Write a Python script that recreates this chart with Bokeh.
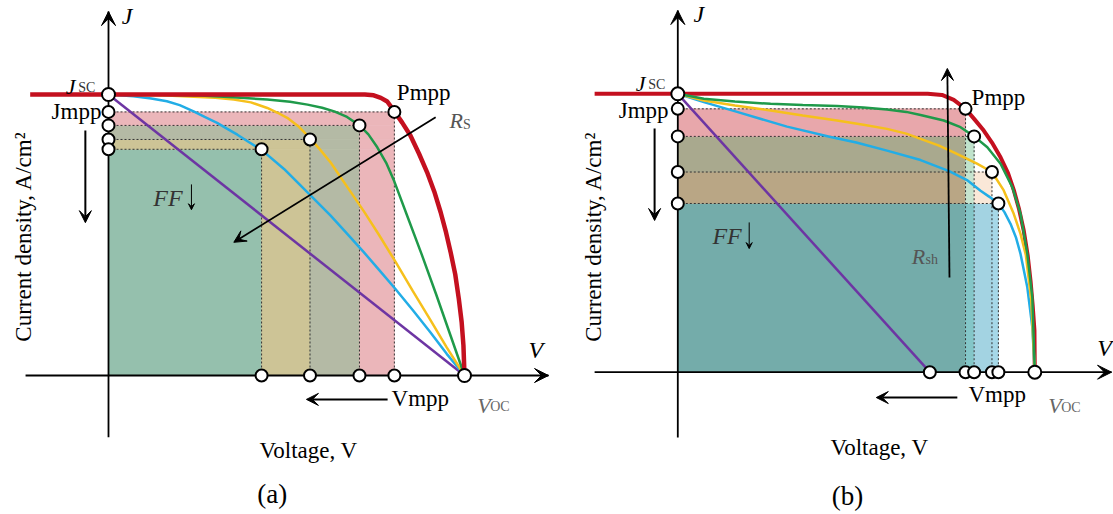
import math
from bokeh.plotting import figure
from bokeh.layouts import row
from bokeh.models import Range1d, Arrow, VeeHead
from bokeh.embed import file_html
from bokeh.resources import INLINE
from bokeh.core.properties import value

FONT = "Liberation Serif"

# ---------------- Panel (a): series resistance ----------------
A_RED_V = [-0.22, 0.0, 0.72, 0.745, 0.765, 0.783, 0.803, 0.825, 0.848, 0.872, 0.895, 0.915, 0.933, 0.948, 0.961, 0.974, 0.984, 0.992, 0.997, 1.0]
A_RED_J = [1.0, 1.0, 1.0, 0.997, 0.988, 0.975, 0.94, 0.90, 0.854, 0.79, 0.723, 0.655, 0.581, 0.51, 0.439, 0.36, 0.273, 0.19, 0.107, 0.0]
A_GRN_V = [0.0, 0.15, 0.258, 0.35, 0.446, 0.51, 0.559, 0.60, 0.634, 0.67, 0.705, 0.73, 0.755, 0.78, 0.803, 0.84, 0.88, 0.92, 0.96, 1.0]
A_GRN_J = [1.0, 0.999, 0.996, 0.99, 0.982, 0.974, 0.964, 0.953, 0.94, 0.92, 0.89, 0.858, 0.812, 0.757, 0.69, 0.565, 0.43, 0.29, 0.145, 0.0]
A_YEL_V = [0.0, 0.164, 0.30, 0.352, 0.40, 0.446, 0.475, 0.502, 0.535, 0.566, 0.595, 0.624, 0.67, 0.717, 0.76, 0.806, 0.855, 0.904, 0.95, 1.0]
A_YEL_J = [1.0, 0.996, 0.988, 0.982, 0.972, 0.952, 0.935, 0.917, 0.885, 0.845, 0.803, 0.758, 0.672, 0.585, 0.50, 0.405, 0.30, 0.198, 0.10, 0.0]
A_BLU_V = [0.0, 0.07, 0.12, 0.164, 0.20, 0.239, 0.27, 0.305, 0.335, 0.362, 0.395, 0.43, 0.493, 0.559, 0.624, 0.67, 0.717, 0.76, 0.806, 0.855, 0.904, 0.95, 1.0]
A_BLU_J = [1.0, 0.994, 0.986, 0.976, 0.962, 0.94, 0.92, 0.899, 0.877, 0.857, 0.83, 0.803, 0.735, 0.652, 0.569, 0.505, 0.439, 0.376, 0.308, 0.232, 0.154, 0.077, 0.0]
A_PUR_V = [0.0, 1.0]
A_PUR_J = [1.0, 0.0]
A_VMPP = [0.803, 0.705, 0.566, 0.43]      # red, green, yellow, blue
A_JMPP = [0.938, 0.89, 0.84, 0.805]

# ---------------- Panel (b): shunt resistance ----------------
B_RED_V = [-0.233, 0.0, 0.70, 0.74, 0.773, 0.806, 0.83, 0.857, 0.88, 0.904, 0.925, 0.941, 0.956, 0.969, 0.98, 0.988, 0.994, 0.999, 1.0]
B_RED_J = [1.0, 1.0, 1.0, 0.996, 0.978, 0.946, 0.91, 0.868, 0.825, 0.772, 0.715, 0.655, 0.585, 0.509, 0.42, 0.329, 0.24, 0.15, 0.0]
B_GRN_V = [0.0, 0.073, 0.16, 0.26, 0.35, 0.446, 0.52, 0.586, 0.64, 0.68, 0.745, 0.792, 0.83, 0.867, 0.904, 0.937, 0.96, 0.979, 0.993, 1.0]
B_GRN_J = [1.0, 0.982, 0.972, 0.964, 0.96, 0.956, 0.951, 0.944, 0.935, 0.924, 0.904, 0.88, 0.847, 0.808, 0.749, 0.665, 0.569, 0.425, 0.269, 0.0]
B_YEL_V = [0.0, 0.073, 0.16, 0.26, 0.35, 0.446, 0.52, 0.586, 0.64, 0.68, 0.73, 0.773, 0.838, 0.88, 0.913, 0.941, 0.96, 0.975, 0.99, 1.0]
B_YEL_J = [1.0, 0.976, 0.958, 0.94, 0.922, 0.904, 0.889, 0.874, 0.857, 0.838, 0.815, 0.79, 0.749, 0.719, 0.653, 0.569, 0.497, 0.42, 0.26, 0.0]
B_BLU_V = [0.0, 0.073, 0.166, 0.306, 0.428, 0.50, 0.586, 0.68, 0.76, 0.81, 0.848, 0.875, 0.898, 0.915, 0.932, 0.947, 0.96, 0.979, 0.993, 1.0]
B_BLU_J = [1.0, 0.97, 0.935, 0.882, 0.845, 0.825, 0.796, 0.762, 0.722, 0.69, 0.652, 0.628, 0.606, 0.575, 0.533, 0.485, 0.425, 0.305, 0.162, 0.0]
B_PUR_V = [0.0, 0.706]
B_PUR_J = [1.0, 0.0]
B_VMPP = [0.806, 0.83, 0.88, 0.898]
B_JMPP = [0.946, 0.847, 0.719, 0.606]

KEYS = ["r", "g", "y", "b"]
RED, GRN, YEL, BLU, PUR = "#c4101f", "#1f9a4a", "#f6c01c", "#22ade6", "#6d35a3"

A_FILL = {"r": "#ebb6ba", "rg": "#b4baa5", "rgy": "#cdc496", "rgyb": "#95c0ad"}
B_FILL = {"r": "#e8a7ab", "rg": "#a9a98e", "rgy": "#b9a685", "rgyb": "#74acaa",
          "g": "#c0e3cc", "gy": "#c6e4cf", "gyb": "#84c6c8", "y": "#fae8d8",
          "yb": "#a3d3e2", "b": "#a6d8e8"}

H = 514


def make_fig(width, left_px, ox, oy, sx, sy):
    xr = Range1d((left_px - ox) / sx, (left_px + width - ox) / sx)
    yr = Range1d((oy - H) / sy, oy / sy)
    p = figure(width=width, height=H, x_range=xr, y_range=yr, output_backend="svg",
               toolbar_location=None, x_axis_type=None, y_axis_type=None,
               min_border=0, outline_line_color=None)
    p.grid.visible = False
    return p


def txt(p, x, y, s, size, align="left", baseline="middle", style="normal", color="black", angle=0.0):
    p.text(x=[x], y=[y], text=[s], text_font=value(FONT), text_font_size=f"{size}px",
           text_align=align, text_baseline=baseline, text_font_style=style,
           text_color=color, angle=angle)


def regions(p, V, J, fills):
    xs = sorted(set([0.0] + V))
    ys = sorted(set([0.0] + J))
    L, R, B, T, C = [], [], [], [], []
    for i in range(len(xs) - 1):
        for j in range(len(ys) - 1):
            cov = "".join(k for k, v, jj in zip(KEYS, V, J)
                          if v >= xs[i + 1] - 1e-9 and jj >= ys[j + 1] - 1e-9)
            if cov:
                L.append(xs[i]); R.append(xs[i + 1]); B.append(ys[j]); T.append(ys[j + 1])
                C.append(fills.get(cov, "#cccccc"))
    p.quad(left=L, right=R, bottom=B, top=T, fill_color=C, line_color=C, line_width=0.6)
    for v, jj in zip(V, J):
        p.segment(x0=[0, v], y0=[jj, 0], x1=[v, v], y1=[jj, jj], line_color="#333333",
                  line_width=1, line_dash="2 2")


def arrow(p, x0, y0, x1, y1, size=12, width=2.0, body=True):
    p.add_layout(Arrow(x_start=x0, y_start=y0, x_end=x1, y_end=y1,
                       line_width=width, line_color="black", line_alpha=1.0 if body else 0.0,
                       end=VeeHead(size=size, fill_color="black", line_color="black", line_width=1)))


def axes(p, xmin, xmax, ymin, ymax):
    p.segment(x0=[xmin, 0], y0=[0, ymin], x1=[xmax, 0], y1=[0, ymax], line_color="black", line_width=1.8)
    arrow(p, xmax - 0.05, 0, xmax, 0, size=14, body=False)
    arrow(p, 0, ymax - 0.05, 0, ymax, size=14, body=False)


def circles(p, xs, ys, size=12):
    p.scatter(xs, ys, size=size, fill_color="white", line_color="black", line_width=2)


# ---------------- build panel (a) ----------------
pa = make_fig(556, 0, 108, 375, 356, 281)
regions(pa, A_VMPP, A_JMPP, A_FILL)
axes(pa, -0.233, 1.236, -0.22, 1.295)
pa.line(A_PUR_V, A_PUR_J, line_color=PUR, line_width=2.5)
pa.line(A_BLU_V, A_BLU_J, line_color=BLU, line_width=2.5)
pa.line(A_YEL_V, A_YEL_J, line_color=YEL, line_width=2.5)
pa.line(A_GRN_V, A_GRN_J, line_color=GRN, line_width=2.5)
pa.line(A_RED_V, A_RED_J, line_color=RED, line_width=4.5)
circles(pa, A_VMPP, A_JMPP)
circles(pa, [0] * 4, A_JMPP)
circles(pa, A_VMPP, [0] * 4)
circles(pa, [0, 1.0], [1.0, 0], size=13)
arrow(pa, -0.065, 0.872, -0.065, 0.544, size=12)
arrow(pa, 0.919, 0.919, 0.352, 0.474, size=12, width=1.8)
arrow(pa, 0.784, -0.085, 0.556, -0.085, size=12)
arrow(pa, 0.233, 0.68, 0.233, 0.59, size=6, width=1)
txt(pa, 0.037, 1.278, "J", 24, style="italic")
txt(pa, -0.12, 1.03, "J", 22, baseline="alphabetic", style="italic")
txt(pa, -0.085, 1.024, "SC", 14, baseline="alphabetic", color="#333333")
txt(pa, -0.02, 0.94, "Jmpp", 23, align="right")
txt(pa, 0.81, 1.007, "Pmpp", 23)
txt(pa, 0.958, 0.907, "R", 22, baseline="alphabetic", style="italic", color="#555555")
txt(pa, 0.996, 0.895, "S", 14, baseline="alphabetic", color="#555555")
txt(pa, 0.126, 0.63, "FF", 24, style="italic", color="#333333")
txt(pa, 1.18, 0.089, "V", 24, style="italic")
txt(pa, 0.795, -0.082, "Vmpp", 23)
txt(pa, 1.036, -0.107, "V", 22, baseline="alphabetic", style="italic", color="#666666")
txt(pa, 1.072, -0.112, "OC", 14, baseline="alphabetic", color="#666666")
txt(pa, 0.562, -0.267, "Voltage, V", 23, align="center")
txt(pa, 0.46, -0.42, "(a)", 27, align="center")
txt(pa, -0.24, 0.495, "Current density, A/cm²", 23, align="center", angle=math.pi / 2)

# ---------------- build panel (b) ----------------
pb = make_fig(557, 556, 677.3, 371.7, 357, 278.4)
regions(pb, B_VMPP, B_JMPP, B_FILL)
axes(pb, -0.233, 1.215, -0.235, 1.299)
pb.line(B_RED_V, B_RED_J, line_color=RED, line_width=4)
pb.line(B_PUR_V, B_PUR_J, line_color=PUR, line_width=2.5)
pb.line(B_BLU_V, B_BLU_J, line_color=BLU, line_width=2.5)
pb.line(B_YEL_V, B_YEL_J, line_color=YEL, line_width=2.5)
pb.line(B_GRN_V, B_GRN_J, line_color=GRN, line_width=2.5)
circles(pb, B_VMPP, B_JMPP)
circles(pb, [0] * 4, B_JMPP)
circles(pb, B_VMPP + [B_PUR_V[-1]], [0] * 5)
circles(pb, [0, 1.0], [1.0, 0], size=13)
arrow(pb, -0.065, 0.875, -0.065, 0.545, size=12)
arrow(pb, 0.761, 0.34, 0.755, 1.091, size=12, width=1.8)
arrow(pb, 0.783, -0.091, 0.556, -0.091, size=12)
arrow(pb, 0.2, 0.538, 0.2, 0.444, size=6, width=1)
txt(pb, 0.044, 1.285, "J", 24, style="italic")
txt(pb, -0.118, 1.038, "J", 22, baseline="alphabetic", style="italic")
txt(pb, -0.083, 1.032, "SC", 14, baseline="alphabetic", color="#333333")
txt(pb, -0.026, 0.94, "Jmpp", 23, align="right")
txt(pb, 0.823, 0.987, "Pmpp", 23)
txt(pb, 0.655, 0.415, "R", 22, baseline="alphabetic", style="italic", color="#555555")
txt(pb, 0.694, 0.405, "sh", 14, baseline="alphabetic", color="#555555")
txt(pb, 0.097, 0.49, "FF", 24, style="italic", color="#333333")
txt(pb, 1.175, 0.088, "V", 24, style="italic")
txt(pb, 0.814, -0.08, "Vmpp", 23)
txt(pb, 1.038, -0.12, "V", 22, baseline="alphabetic", style="italic", color="#666666")
txt(pb, 1.074, -0.125, "OC", 14, baseline="alphabetic", color="#666666")
txt(pb, 0.565, -0.27, "Voltage, V", 23, align="center")
txt(pb, 0.475, -0.443, "(b)", 27, align="center")
txt(pb, -0.237, 0.487, "Current density, A/cm²", 23, align="center", angle=math.pi / 2)

layout = row(pa, pb)
open("out.html", "w").write(file_html(layout, INLINE))
